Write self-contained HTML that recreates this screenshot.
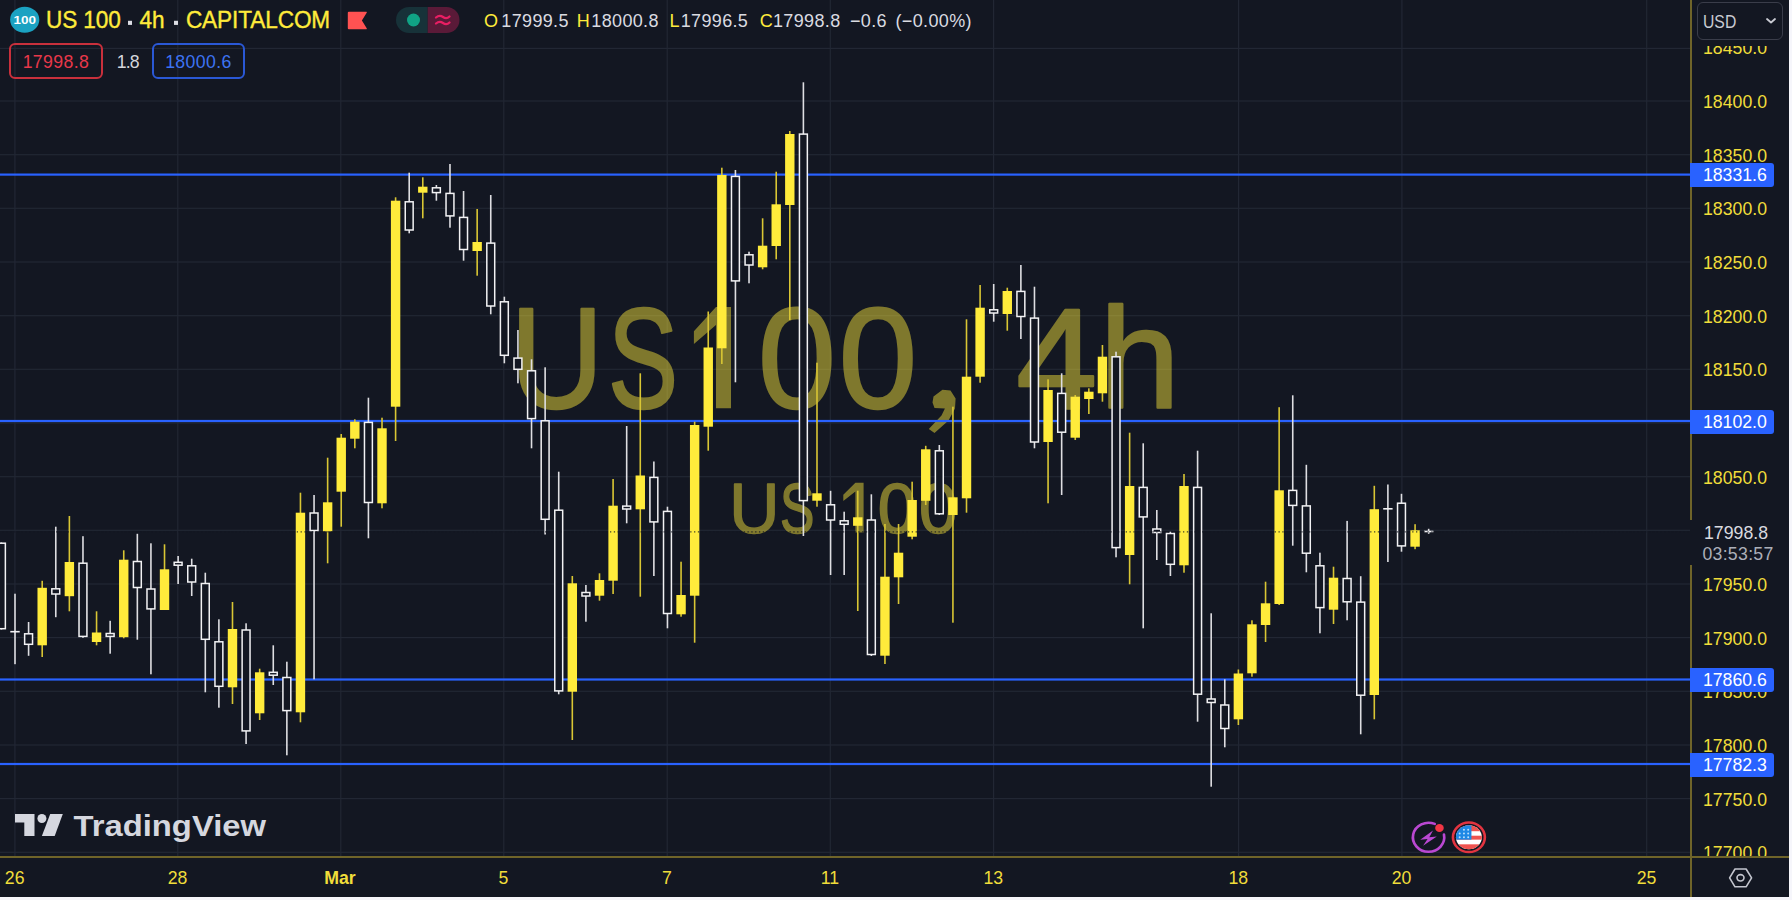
<!DOCTYPE html>
<html><head><meta charset="utf-8"><title>US 100 chart</title>
<style>
html,body{margin:0;padding:0;}
body{width:1792px;height:900px;background:#F6F6FB;overflow:hidden;position:relative;font-family:"Liberation Sans",sans-serif;}
#app{position:absolute;left:0;top:0;width:1789.3px;height:896.9px;background:#131722;overflow:hidden;}
#chart{position:absolute;left:0;top:0;}
.abs{position:absolute;white-space:nowrap;}
#axisv1{position:absolute;left:1690px;top:0;width:2px;height:519.7px;background:#6F6429;}
#axisv2{z-index:3;position:absolute;left:1690px;top:565.3px;width:2px;height:335px;background:#6F6429;}
#axish{z-index:3;position:absolute;left:0;top:856.3px;width:1790px;height:1.4px;background:#6F6429;}
#timebar{z-index:2;position:absolute;left:0;top:858px;width:1790px;height:40px;background:#131722;}
.pl{position:absolute;left:1692px;width:86px;text-align:center;font-size:17.7px;line-height:22px;height:22px;color:#F0DD3A;white-space:nowrap;}
.bl{z-index:4;position:absolute;left:1690.3px;width:84.2px;height:24px;line-height:25.6px;background:#2962FF;color:#fff;font-size:17.7px;text-align:center;border-radius:0 3px 3px 0;padding-left:5px;box-sizing:border-box;}
.tl{z-index:3;position:absolute;top:866.7px;width:60px;text-align:center;font-size:17.7px;line-height:22px;color:#F0DD3A;}
.tl.b{font-weight:bold;}
#usd{position:absolute;left:1696.8px;top:2px;width:86.4px;height:37.8px;box-sizing:border-box;border:1.8px solid #3A3D4A;border-radius:6px;background:#131722;}
#usd span{position:absolute;left:5px;top:7.8px;font-size:17.5px;line-height:22px;color:#C9CBD3;transform:scaleX(0.9);transform-origin:0 0;}
#usdcover{position:absolute;left:1692.2px;top:0;width:98px;height:45.6px;background:#131722;}
#lastp{position:absolute;left:1693px;top:521px;width:96px;height:44px;background:#131722;}
#lastp .a{position:absolute;left:0;width:86px;top:1px;text-align:center;font-size:17.7px;line-height:22px;color:#DADBE0;}
#lastp .b{position:absolute;left:0;width:90px;top:21.5px;text-align:center;font-size:17.7px;line-height:22px;color:#ACAFB9;letter-spacing:0.3px;}
#title{left:46px;top:6.6px;transform:scaleY(1.03);transform-origin:0 76%;font-size:22.6px;line-height:28px;color:#FFEB3B;letter-spacing:-0.1px;-webkit-text-stroke:0.35px #FFEB3B;}
#title i{display:inline-block;width:4px;height:4px;background:#DCDDE4;vertical-align:middle;margin:0 7.7px 0 7px;position:relative;top:0.8px;}
#title i.s2{margin-left:9.6px;margin-right:7.9px;}
#ohlc{left:0;top:8.5px;font-size:18px;line-height:24px;color:#DADBE1;letter-spacing:0.35px;}
#ohlc span{position:absolute;top:0;}
#ohlc b{font-weight:normal;color:#FFEB3B;}
.box{position:absolute;top:43px;height:36.2px;box-sizing:border-box;border-radius:6px;font-size:17.7px;line-height:31.4px;padding-top:1.6px;text-align:center;letter-spacing:0.4px;}
</style></head><body>
<div id="app">
<svg id="chart" width="1692" height="858" viewBox="0 0 1692 858" shape-rendering="auto">
<rect x="14.3" y="0" width="1.2" height="857" fill="#222734"/>
<rect x="177.2" y="0" width="1.2" height="857" fill="#222734"/>
<rect x="340.2" y="0" width="1.2" height="857" fill="#222734"/>
<rect x="503.2" y="0" width="1.2" height="857" fill="#222734"/>
<rect x="666.6" y="0" width="1.2" height="857" fill="#222734"/>
<rect x="829.7" y="0" width="1.2" height="857" fill="#222734"/>
<rect x="993.0" y="0" width="1.2" height="857" fill="#222734"/>
<rect x="1238.0" y="0" width="1.2" height="857" fill="#222734"/>
<rect x="1401.3" y="0" width="1.2" height="857" fill="#222734"/>
<rect x="1646.1" y="0" width="1.2" height="857" fill="#222734"/>
<rect x="0" y="851.7" width="1690" height="1.2" fill="#222734"/>
<rect x="0" y="798.0" width="1690" height="1.2" fill="#222734"/>
<rect x="0" y="744.4" width="1690" height="1.2" fill="#222734"/>
<rect x="0" y="690.7" width="1690" height="1.2" fill="#222734"/>
<rect x="0" y="637.0" width="1690" height="1.2" fill="#222734"/>
<rect x="0" y="583.4" width="1690" height="1.2" fill="#222734"/>
<rect x="0" y="529.7" width="1690" height="1.2" fill="#222734"/>
<rect x="0" y="476.1" width="1690" height="1.2" fill="#222734"/>
<rect x="0" y="422.4" width="1690" height="1.2" fill="#222734"/>
<rect x="0" y="368.7" width="1690" height="1.2" fill="#222734"/>
<rect x="0" y="315.1" width="1690" height="1.2" fill="#222734"/>
<rect x="0" y="261.4" width="1690" height="1.2" fill="#222734"/>
<rect x="0" y="207.7" width="1690" height="1.2" fill="#222734"/>
<rect x="0" y="154.1" width="1690" height="1.2" fill="#222734"/>
<rect x="0" y="100.4" width="1690" height="1.2" fill="#222734"/>
<rect x="0" y="47.8" width="1690" height="1.2" fill="#222734"/>
<g opacity="0.46" fill="#FFEB3B" stroke="#FFEB3B" stroke-width="2.4" stroke-linejoin="round" font-family="Liberation Sans, sans-serif" font-size="143.3">
<text transform="translate(510.35,408.20) scale(0.9007,1)">U</text>
<text transform="translate(607.93,408.20) scale(0.7334,1)">S</text>
<path stroke="none" d="M715.97 307.00 H731.00 V408.20 H715.97 V325.00 L693.90 344.00 V331.30 Z"/>
<text transform="translate(757.93,408.20) scale(0.9767,1)">0</text>
<text transform="translate(838.79,408.20) scale(0.9825,1)">0</text>
<path stroke="none" d="M933.5 396.5 L942.5 389.8 L950.5 390.4 L955.6 398.5 L955.0 408.5 L948.5 420.6 L934.5 433.0 L928.8 429.0 L941.5 415.6 L944.9 408.5 L934.5 408.1 L932.5 402.5Z"/>
<text transform="translate(1016.26,408.20) scale(1.0163,1)">4</text>
<text transform="translate(1099.40,408.20) scale(1.0073,1)">h</text>
</g>
<g opacity="0.46" fill="#FFEB3B" stroke="#FFEB3B" stroke-width="1.5" stroke-linejoin="round" font-family="Liberation Sans, sans-serif" font-size="70.5">
<text transform="translate(729.19,532.50) scale(0.9866,1)">U</text>
<text transform="translate(780.11,532.50) scale(0.7318,1)">S</text>
<path stroke="none" d="M855.38 482.71 H863.60 V532.50 H855.38 V491.57 L843.30 500.92 V494.67 Z"/>
<text transform="translate(877.64,532.50) scale(0.9822,1)">0</text>
<text transform="translate(919.04,532.50) scale(0.9822,1)">0</text>
</g>
<rect x="0" y="173.5" width="1691" height="2.2" fill="#2962FF"/>
<rect x="0" y="419.9" width="1691" height="2.2" fill="#2962FF"/>
<rect x="0" y="678.4" width="1691" height="2.2" fill="#2962FF"/>
<rect x="0" y="762.9" width="1691" height="2.2" fill="#2962FF"/>
<rect x="0.61" y="542.5" width="1.6" height="87.0" fill="#DEDEE2"/>
<rect x="-2.54" y="543.2" width="7.90" height="85.5" fill="#131722" stroke="#F2F2F4" stroke-width="1.5"/>
<rect x="14.20" y="593.7" width="1.6" height="70.5" fill="#DEDEE2"/>
<rect x="10.30" y="630.9" width="9.4" height="1.6" fill="#F2F2F4"/>
<rect x="27.79" y="622.0" width="1.6" height="33.8" fill="#DEDEE2"/>
<rect x="24.64" y="633.8" width="7.90" height="10.5" fill="#131722" stroke="#F2F2F4" stroke-width="1.5"/>
<rect x="41.39" y="580.8" width="1.6" height="76.2" fill="#D9C634"/>
<rect x="37.49" y="587.8" width="9.4" height="57.5" fill="#FFEB3B"/>
<rect x="54.98" y="526.7" width="1.6" height="90.5" fill="#DEDEE2"/>
<rect x="51.83" y="588.8" width="7.90" height="5.2" fill="#131722" stroke="#F2F2F4" stroke-width="1.5"/>
<rect x="68.57" y="516.0" width="1.6" height="95.3" fill="#D9C634"/>
<rect x="64.67" y="562.0" width="9.4" height="34.2" fill="#FFEB3B"/>
<rect x="82.17" y="536.2" width="1.6" height="101.6" fill="#DEDEE2"/>
<rect x="79.02" y="563.2" width="7.90" height="73.2" fill="#131722" stroke="#F2F2F4" stroke-width="1.5"/>
<rect x="95.76" y="611.3" width="1.6" height="34.0" fill="#D9C634"/>
<rect x="91.86" y="632.5" width="9.4" height="9.5" fill="#FFEB3B"/>
<rect x="109.35" y="620.8" width="1.6" height="32.9" fill="#DEDEE2"/>
<rect x="106.20" y="633.5" width="7.90" height="2.9" fill="#131722" stroke="#F2F2F4" stroke-width="1.5"/>
<rect x="122.94" y="550.3" width="1.6" height="88.0" fill="#D9C634"/>
<rect x="119.04" y="559.7" width="9.4" height="77.5" fill="#FFEB3B"/>
<rect x="136.54" y="533.8" width="1.6" height="105.9" fill="#DEDEE2"/>
<rect x="133.39" y="561.5" width="7.90" height="26.0" fill="#131722" stroke="#F2F2F4" stroke-width="1.5"/>
<rect x="150.13" y="543.3" width="1.6" height="131.0" fill="#DEDEE2"/>
<rect x="146.98" y="589.0" width="7.90" height="19.9" fill="#131722" stroke="#F2F2F4" stroke-width="1.5"/>
<rect x="163.72" y="544.3" width="1.6" height="65.7" fill="#D9C634"/>
<rect x="159.82" y="569.3" width="9.4" height="40.7" fill="#FFEB3B"/>
<rect x="177.32" y="556.0" width="1.6" height="28.0" fill="#DEDEE2"/>
<rect x="174.17" y="562.3" width="7.90" height="2.9" fill="#131722" stroke="#F2F2F4" stroke-width="1.5"/>
<rect x="190.91" y="558.7" width="1.6" height="37.3" fill="#DEDEE2"/>
<rect x="187.76" y="565.8" width="7.90" height="16.2" fill="#131722" stroke="#F2F2F4" stroke-width="1.5"/>
<rect x="204.50" y="572.7" width="1.6" height="119.6" fill="#DEDEE2"/>
<rect x="201.35" y="583.5" width="7.90" height="55.8" fill="#131722" stroke="#F2F2F4" stroke-width="1.5"/>
<rect x="218.09" y="619.3" width="1.6" height="88.4" fill="#DEDEE2"/>
<rect x="214.95" y="641.8" width="7.90" height="44.5" fill="#131722" stroke="#F2F2F4" stroke-width="1.5"/>
<rect x="231.69" y="602.0" width="1.6" height="102.0" fill="#D9C634"/>
<rect x="227.79" y="629.0" width="9.4" height="58.3" fill="#FFEB3B"/>
<rect x="245.28" y="623.3" width="1.6" height="120.7" fill="#DEDEE2"/>
<rect x="242.13" y="630.0" width="7.90" height="100.9" fill="#131722" stroke="#F2F2F4" stroke-width="1.5"/>
<rect x="258.87" y="668.7" width="1.6" height="51.3" fill="#D9C634"/>
<rect x="254.97" y="672.3" width="9.4" height="41.0" fill="#FFEB3B"/>
<rect x="272.47" y="645.3" width="1.6" height="39.7" fill="#DEDEE2"/>
<rect x="269.32" y="672.3" width="7.90" height="2.9" fill="#131722" stroke="#F2F2F4" stroke-width="1.5"/>
<rect x="286.06" y="661.7" width="1.6" height="93.6" fill="#DEDEE2"/>
<rect x="282.91" y="677.5" width="7.90" height="33.1" fill="#131722" stroke="#F2F2F4" stroke-width="1.5"/>
<rect x="299.65" y="492.7" width="1.6" height="229.6" fill="#D9C634"/>
<rect x="295.75" y="512.7" width="9.4" height="199.6" fill="#FFEB3B"/>
<rect x="313.25" y="495.0" width="1.6" height="184.3" fill="#DEDEE2"/>
<rect x="310.10" y="513.0" width="7.90" height="17.5" fill="#131722" stroke="#F2F2F4" stroke-width="1.5"/>
<rect x="326.84" y="457.7" width="1.6" height="105.6" fill="#D9C634"/>
<rect x="322.94" y="502.3" width="9.4" height="29.0" fill="#FFEB3B"/>
<rect x="340.43" y="434.0" width="1.6" height="92.7" fill="#D9C634"/>
<rect x="336.53" y="437.7" width="9.4" height="54.0" fill="#FFEB3B"/>
<rect x="354.02" y="419.3" width="1.6" height="29.0" fill="#D9C634"/>
<rect x="350.12" y="421.7" width="9.4" height="17.0" fill="#FFEB3B"/>
<rect x="367.62" y="397.7" width="1.6" height="140.6" fill="#DEDEE2"/>
<rect x="364.47" y="422.4" width="7.90" height="80.1" fill="#131722" stroke="#F2F2F4" stroke-width="1.5"/>
<rect x="381.21" y="417.7" width="1.6" height="90.6" fill="#D9C634"/>
<rect x="377.31" y="428.3" width="9.4" height="75.0" fill="#FFEB3B"/>
<rect x="394.80" y="197.3" width="1.6" height="243.7" fill="#D9C634"/>
<rect x="390.90" y="200.7" width="9.4" height="206.0" fill="#FFEB3B"/>
<rect x="408.40" y="172.7" width="1.6" height="60.6" fill="#DEDEE2"/>
<rect x="405.25" y="201.8" width="7.90" height="28.2" fill="#131722" stroke="#F2F2F4" stroke-width="1.5"/>
<rect x="421.99" y="177.3" width="1.6" height="41.0" fill="#D9C634"/>
<rect x="418.09" y="186.7" width="9.4" height="6.0" fill="#FFEB3B"/>
<rect x="435.58" y="185.0" width="1.6" height="15.7" fill="#DEDEE2"/>
<rect x="432.43" y="187.8" width="7.90" height="4.8" fill="#131722" stroke="#F2F2F4" stroke-width="1.5"/>
<rect x="449.18" y="164.0" width="1.6" height="63.7" fill="#DEDEE2"/>
<rect x="446.03" y="193.4" width="7.90" height="22.5" fill="#131722" stroke="#F2F2F4" stroke-width="1.5"/>
<rect x="462.77" y="191.0" width="1.6" height="69.7" fill="#DEDEE2"/>
<rect x="459.62" y="217.4" width="7.90" height="32.1" fill="#131722" stroke="#F2F2F4" stroke-width="1.5"/>
<rect x="476.36" y="209.0" width="1.6" height="66.7" fill="#D9C634"/>
<rect x="472.46" y="242.0" width="9.4" height="9.0" fill="#FFEB3B"/>
<rect x="489.95" y="195.0" width="1.6" height="119.3" fill="#DEDEE2"/>
<rect x="486.81" y="243.1" width="7.90" height="62.9" fill="#131722" stroke="#F2F2F4" stroke-width="1.5"/>
<rect x="503.55" y="296.7" width="1.6" height="66.6" fill="#DEDEE2"/>
<rect x="500.40" y="301.8" width="7.90" height="53.5" fill="#131722" stroke="#F2F2F4" stroke-width="1.5"/>
<rect x="517.14" y="330.0" width="1.6" height="53.3" fill="#DEDEE2"/>
<rect x="513.99" y="358.1" width="7.90" height="11.2" fill="#131722" stroke="#F2F2F4" stroke-width="1.5"/>
<rect x="530.73" y="359.3" width="1.6" height="89.0" fill="#DEDEE2"/>
<rect x="527.58" y="370.8" width="7.90" height="47.8" fill="#131722" stroke="#F2F2F4" stroke-width="1.5"/>
<rect x="544.33" y="367.3" width="1.6" height="167.2" fill="#DEDEE2"/>
<rect x="541.18" y="420.8" width="7.90" height="98.5" fill="#131722" stroke="#F2F2F4" stroke-width="1.5"/>
<rect x="557.92" y="471.7" width="1.6" height="222.6" fill="#DEDEE2"/>
<rect x="554.77" y="510.2" width="7.90" height="180.7" fill="#131722" stroke="#F2F2F4" stroke-width="1.5"/>
<rect x="571.51" y="576.0" width="1.6" height="164.0" fill="#D9C634"/>
<rect x="567.61" y="583.3" width="9.4" height="108.4" fill="#FFEB3B"/>
<rect x="585.11" y="585.0" width="1.6" height="36.7" fill="#DEDEE2"/>
<rect x="581.96" y="592.5" width="7.90" height="3.5" fill="#131722" stroke="#F2F2F4" stroke-width="1.5"/>
<rect x="598.70" y="573.3" width="1.6" height="27.4" fill="#D9C634"/>
<rect x="594.80" y="580.0" width="9.4" height="15.7" fill="#FFEB3B"/>
<rect x="612.29" y="479.0" width="1.6" height="115.0" fill="#D9C634"/>
<rect x="608.39" y="505.7" width="9.4" height="75.0" fill="#FFEB3B"/>
<rect x="625.88" y="426.0" width="1.6" height="97.3" fill="#DEDEE2"/>
<rect x="622.73" y="506.1" width="7.90" height="2.9" fill="#131722" stroke="#F2F2F4" stroke-width="1.5"/>
<rect x="639.48" y="373.3" width="1.6" height="223.4" fill="#D9C634"/>
<rect x="635.58" y="475.5" width="9.4" height="33.8" fill="#FFEB3B"/>
<rect x="653.07" y="461.5" width="1.6" height="114.5" fill="#DEDEE2"/>
<rect x="649.92" y="477.4" width="7.90" height="44.5" fill="#131722" stroke="#F2F2F4" stroke-width="1.5"/>
<rect x="666.66" y="506.7" width="1.6" height="121.6" fill="#DEDEE2"/>
<rect x="663.51" y="511.4" width="7.90" height="102.1" fill="#131722" stroke="#F2F2F4" stroke-width="1.5"/>
<rect x="680.26" y="561.7" width="1.6" height="55.0" fill="#D9C634"/>
<rect x="676.36" y="595.0" width="9.4" height="19.3" fill="#FFEB3B"/>
<rect x="693.85" y="421.7" width="1.6" height="221.0" fill="#D9C634"/>
<rect x="689.95" y="425.0" width="9.4" height="170.7" fill="#FFEB3B"/>
<rect x="707.44" y="311.5" width="1.6" height="139.2" fill="#D9C634"/>
<rect x="703.54" y="347.5" width="9.4" height="79.2" fill="#FFEB3B"/>
<rect x="721.04" y="167.7" width="1.6" height="196.3" fill="#D9C634"/>
<rect x="717.14" y="175.0" width="9.4" height="173.3" fill="#FFEB3B"/>
<rect x="734.63" y="170.0" width="1.6" height="212.3" fill="#DEDEE2"/>
<rect x="731.48" y="176.4" width="7.90" height="104.5" fill="#131722" stroke="#F2F2F4" stroke-width="1.5"/>
<rect x="748.22" y="251.7" width="1.6" height="31.6" fill="#DEDEE2"/>
<rect x="745.07" y="254.8" width="7.90" height="10.2" fill="#131722" stroke="#F2F2F4" stroke-width="1.5"/>
<rect x="761.82" y="218.3" width="1.6" height="51.0" fill="#D9C634"/>
<rect x="757.91" y="245.7" width="9.4" height="21.6" fill="#FFEB3B"/>
<rect x="775.41" y="171.7" width="1.6" height="87.6" fill="#D9C634"/>
<rect x="771.51" y="204.3" width="9.4" height="41.7" fill="#FFEB3B"/>
<rect x="789.00" y="131.0" width="1.6" height="189.0" fill="#D9C634"/>
<rect x="785.10" y="134.0" width="9.4" height="71.0" fill="#FFEB3B"/>
<rect x="802.59" y="82.3" width="1.6" height="453.7" fill="#DEDEE2"/>
<rect x="799.44" y="134.1" width="7.90" height="366.5" fill="#131722" stroke="#F2F2F4" stroke-width="1.5"/>
<rect x="816.19" y="362.7" width="1.6" height="144.0" fill="#D9C634"/>
<rect x="812.29" y="493.3" width="9.4" height="7.4" fill="#FFEB3B"/>
<rect x="829.78" y="490.8" width="1.6" height="84.2" fill="#DEDEE2"/>
<rect x="826.63" y="504.8" width="7.90" height="15.2" fill="#131722" stroke="#F2F2F4" stroke-width="1.5"/>
<rect x="843.37" y="511.7" width="1.6" height="63.3" fill="#DEDEE2"/>
<rect x="840.22" y="520.8" width="7.90" height="3.5" fill="#131722" stroke="#F2F2F4" stroke-width="1.5"/>
<rect x="856.97" y="490.7" width="1.6" height="120.3" fill="#D9C634"/>
<rect x="853.07" y="517.3" width="9.4" height="8.5" fill="#FFEB3B"/>
<rect x="870.56" y="494.3" width="1.6" height="161.7" fill="#DEDEE2"/>
<rect x="867.41" y="520.0" width="7.90" height="134.5" fill="#131722" stroke="#F2F2F4" stroke-width="1.5"/>
<rect x="884.15" y="524.0" width="1.6" height="140.0" fill="#D9C634"/>
<rect x="880.25" y="576.7" width="9.4" height="79.0" fill="#FFEB3B"/>
<rect x="897.75" y="524.0" width="1.6" height="80.0" fill="#D9C634"/>
<rect x="893.84" y="552.7" width="9.4" height="24.6" fill="#FFEB3B"/>
<rect x="911.34" y="481.7" width="1.6" height="57.6" fill="#D9C634"/>
<rect x="907.44" y="500.0" width="9.4" height="36.7" fill="#FFEB3B"/>
<rect x="924.93" y="445.8" width="1.6" height="59.2" fill="#D9C634"/>
<rect x="921.03" y="449.3" width="9.4" height="51.5" fill="#FFEB3B"/>
<rect x="938.52" y="445.0" width="1.6" height="70.0" fill="#DEDEE2"/>
<rect x="935.37" y="450.8" width="7.90" height="63.0" fill="#131722" stroke="#F2F2F4" stroke-width="1.5"/>
<rect x="952.12" y="406.7" width="1.6" height="216.0" fill="#D9C634"/>
<rect x="948.22" y="497.3" width="9.4" height="17.7" fill="#FFEB3B"/>
<rect x="965.71" y="319.3" width="1.6" height="193.4" fill="#D9C634"/>
<rect x="961.81" y="376.7" width="9.4" height="121.6" fill="#FFEB3B"/>
<rect x="979.30" y="285.0" width="1.6" height="97.7" fill="#D9C634"/>
<rect x="975.40" y="307.7" width="9.4" height="69.0" fill="#FFEB3B"/>
<rect x="992.90" y="284.0" width="1.6" height="37.7" fill="#DEDEE2"/>
<rect x="989.75" y="309.8" width="7.90" height="3.2" fill="#131722" stroke="#F2F2F4" stroke-width="1.5"/>
<rect x="1006.49" y="287.7" width="1.6" height="43.0" fill="#D9C634"/>
<rect x="1002.59" y="291.0" width="9.4" height="23.0" fill="#FFEB3B"/>
<rect x="1020.08" y="265.0" width="1.6" height="74.0" fill="#DEDEE2"/>
<rect x="1016.93" y="291.4" width="7.90" height="25.1" fill="#131722" stroke="#F2F2F4" stroke-width="1.5"/>
<rect x="1033.67" y="286.7" width="1.6" height="161.6" fill="#DEDEE2"/>
<rect x="1030.52" y="318.1" width="7.90" height="123.9" fill="#131722" stroke="#F2F2F4" stroke-width="1.5"/>
<rect x="1047.27" y="379.3" width="1.6" height="124.0" fill="#D9C634"/>
<rect x="1043.37" y="390.0" width="9.4" height="52.0" fill="#FFEB3B"/>
<rect x="1060.86" y="373.3" width="1.6" height="121.7" fill="#DEDEE2"/>
<rect x="1057.71" y="393.4" width="7.90" height="38.8" fill="#131722" stroke="#F2F2F4" stroke-width="1.5"/>
<rect x="1074.45" y="395.0" width="1.6" height="45.0" fill="#D9C634"/>
<rect x="1070.55" y="396.7" width="9.4" height="41.0" fill="#FFEB3B"/>
<rect x="1088.05" y="388.3" width="1.6" height="25.7" fill="#D9C634"/>
<rect x="1084.15" y="391.7" width="9.4" height="7.3" fill="#FFEB3B"/>
<rect x="1101.64" y="345.0" width="1.6" height="56.7" fill="#D9C634"/>
<rect x="1097.74" y="356.7" width="9.4" height="36.6" fill="#FFEB3B"/>
<rect x="1115.23" y="351.7" width="1.6" height="205.6" fill="#DEDEE2"/>
<rect x="1112.08" y="356.8" width="7.90" height="190.8" fill="#131722" stroke="#F2F2F4" stroke-width="1.5"/>
<rect x="1128.83" y="432.7" width="1.6" height="151.6" fill="#D9C634"/>
<rect x="1124.93" y="486.0" width="9.4" height="69.0" fill="#FFEB3B"/>
<rect x="1142.42" y="443.3" width="1.6" height="185.0" fill="#DEDEE2"/>
<rect x="1139.27" y="487.4" width="7.90" height="29.5" fill="#131722" stroke="#F2F2F4" stroke-width="1.5"/>
<rect x="1156.01" y="510.0" width="1.6" height="50.0" fill="#DEDEE2"/>
<rect x="1152.86" y="529.0" width="7.90" height="3.5" fill="#131722" stroke="#F2F2F4" stroke-width="1.5"/>
<rect x="1169.61" y="531.7" width="1.6" height="44.3" fill="#DEDEE2"/>
<rect x="1166.45" y="533.5" width="7.90" height="30.8" fill="#131722" stroke="#F2F2F4" stroke-width="1.5"/>
<rect x="1183.20" y="474.0" width="1.6" height="98.7" fill="#D9C634"/>
<rect x="1179.30" y="486.0" width="9.4" height="79.3" fill="#FFEB3B"/>
<rect x="1196.79" y="450.7" width="1.6" height="271.0" fill="#DEDEE2"/>
<rect x="1193.64" y="487.4" width="7.90" height="206.8" fill="#131722" stroke="#F2F2F4" stroke-width="1.5"/>
<rect x="1210.38" y="613.3" width="1.6" height="173.4" fill="#DEDEE2"/>
<rect x="1207.23" y="699.0" width="7.90" height="3.5" fill="#131722" stroke="#F2F2F4" stroke-width="1.5"/>
<rect x="1223.98" y="679.3" width="1.6" height="68.0" fill="#DEDEE2"/>
<rect x="1220.83" y="705.0" width="7.90" height="23.5" fill="#131722" stroke="#F2F2F4" stroke-width="1.5"/>
<rect x="1237.57" y="669.5" width="1.6" height="55.5" fill="#D9C634"/>
<rect x="1233.67" y="673.5" width="9.4" height="45.8" fill="#FFEB3B"/>
<rect x="1251.16" y="620.3" width="1.6" height="56.4" fill="#D9C634"/>
<rect x="1247.26" y="624.3" width="9.4" height="49.0" fill="#FFEB3B"/>
<rect x="1264.76" y="581.7" width="1.6" height="60.3" fill="#D9C634"/>
<rect x="1260.86" y="603.3" width="9.4" height="21.7" fill="#FFEB3B"/>
<rect x="1278.35" y="407.2" width="1.6" height="197.8" fill="#D9C634"/>
<rect x="1274.45" y="490.3" width="9.4" height="113.7" fill="#FFEB3B"/>
<rect x="1291.94" y="395.3" width="1.6" height="150.4" fill="#DEDEE2"/>
<rect x="1288.79" y="490.4" width="7.90" height="15.0" fill="#131722" stroke="#F2F2F4" stroke-width="1.5"/>
<rect x="1305.54" y="464.8" width="1.6" height="107.5" fill="#DEDEE2"/>
<rect x="1302.38" y="505.9" width="7.90" height="47.3" fill="#131722" stroke="#F2F2F4" stroke-width="1.5"/>
<rect x="1319.13" y="552.7" width="1.6" height="80.6" fill="#DEDEE2"/>
<rect x="1315.98" y="565.8" width="7.90" height="41.8" fill="#131722" stroke="#F2F2F4" stroke-width="1.5"/>
<rect x="1332.72" y="566.7" width="1.6" height="57.3" fill="#D9C634"/>
<rect x="1328.82" y="577.7" width="9.4" height="32.0" fill="#FFEB3B"/>
<rect x="1346.31" y="520.9" width="1.6" height="99.4" fill="#DEDEE2"/>
<rect x="1343.16" y="578.5" width="7.90" height="23.3" fill="#131722" stroke="#F2F2F4" stroke-width="1.5"/>
<rect x="1359.91" y="576.2" width="1.6" height="158.1" fill="#DEDEE2"/>
<rect x="1356.76" y="602.1" width="7.90" height="93.1" fill="#131722" stroke="#F2F2F4" stroke-width="1.5"/>
<rect x="1373.50" y="485.8" width="1.6" height="233.5" fill="#D9C634"/>
<rect x="1369.60" y="509.2" width="9.4" height="185.8" fill="#FFEB3B"/>
<rect x="1387.09" y="484.5" width="1.6" height="77.5" fill="#DEDEE2"/>
<rect x="1383.19" y="508.0" width="9.4" height="1.6" fill="#F2F2F4"/>
<rect x="1400.69" y="493.8" width="1.6" height="57.9" fill="#DEDEE2"/>
<rect x="1397.54" y="503.2" width="7.90" height="42.7" fill="#131722" stroke="#F2F2F4" stroke-width="1.5"/>
<rect x="1414.28" y="524.2" width="1.6" height="25.0" fill="#D9C634"/>
<rect x="1410.38" y="530.3" width="9.4" height="16.4" fill="#FFEB3B"/>
<rect x="1427.87" y="528.8" width="1.6" height="5.0" fill="#DEDEE2"/>
<rect x="1423.97" y="530.7" width="9.4" height="1.6" fill="#F2F2F4"/>
<line x1="2.6" y1="531.8" x2="1690" y2="531.8" stroke="#131722" stroke-opacity="0.8" stroke-width="1.2" stroke-dasharray="1.3 2.52"/>
</svg>
<div id="timebar"></div>
<div id="axisv1"></div><div id="axisv2"></div>
<div class="pl" style="top:842.3px">17700.0</div>
<div class="pl" style="top:788.6px">17750.0</div>
<div class="pl" style="top:735.0px">17800.0</div>
<div class="pl" style="top:681.3px">17850.0</div>
<div class="pl" style="top:627.6px">17900.0</div>
<div class="pl" style="top:574.0px">17950.0</div>
<div class="pl" style="top:520.3px">18000.0</div>
<div class="pl" style="top:466.7px">18050.0</div>
<div class="pl" style="top:413.0px">18100.0</div>
<div class="pl" style="top:359.3px">18150.0</div>
<div class="pl" style="top:305.7px">18200.0</div>
<div class="pl" style="top:252.0px">18250.0</div>
<div class="pl" style="top:198.3px">18300.0</div>
<div class="pl" style="top:144.7px">18350.0</div>
<div class="pl" style="top:91.0px">18400.0</div>
<div class="pl" style="top:37.3px">18450.0</div>
<div class="bl" style="top:163.3px">18331.6</div>
<div class="bl" style="top:409.6px">18102.0</div>
<div class="bl" style="top:667.7px">17860.6</div>
<div class="bl" style="top:752.5px">17782.3</div>
<div id="lastp"><div class="a">17998.8</div><div class="b">03:53:57</div></div>
<div id="usdcover"></div>
<div id="usd"><span>USD</span>
<svg style="position:absolute;left:67px;top:14.2px" width="12" height="8" viewBox="0 0 12 8"><path d="M2 2 L6 5.5 L10 2" fill="none" stroke="#C9CBD3" stroke-width="1.8" stroke-linecap="round" stroke-linejoin="round"/></svg>
</div>
<div id="axish"></div>
<div class="tl" style="left:-15.3px">26</div>
<div class="tl" style="left:147.5px">28</div>
<div class="tl b" style="left:310.0px">Mar</div>
<div class="tl" style="left:473.5px">5</div>
<div class="tl" style="left:637.0px">7</div>
<div class="tl" style="left:800.0px">11</div>
<div class="tl" style="left:963.3px">13</div>
<div class="tl" style="left:1208.3px">18</div>
<div class="tl" style="left:1371.6px">20</div>
<div class="tl" style="left:1616.5px">25</div>
<svg class="abs" style="z-index:3;left:1726px;top:864px" width="30" height="28" viewBox="1726 864 30 28"><path d="M1729.6 877.9 L1735 869 H1746.1 L1751.6 877.9 L1746.1 886.8 H1735 Z" fill="none" stroke="#C4C6CF" stroke-width="1.6" stroke-linejoin="round"/><ellipse cx="1740.5" cy="877.8" rx="3.5" ry="3.2" fill="none" stroke="#C4C6CF" stroke-width="1.6"/></svg>

<!-- header -->
<svg class="abs" style="left:9px;top:5px" width="32" height="30" viewBox="0 0 32 30"><ellipse cx="15.7" cy="14.7" rx="14.6" ry="13" fill="#1BA2C2"/><text x="15.7" y="19" text-anchor="middle" font-family="Liberation Sans, sans-serif" font-weight="bold" font-size="11.5" fill="#fff" textLength="22.5" lengthAdjust="spacingAndGlyphs">100</text></svg>
<div id="title" class="abs">US 100<i></i>4h<i class="s2"></i>CAPITALCOM</div>
<svg class="abs" style="left:347px;top:11px" width="22" height="20" viewBox="0 0 22 20"><path d="M1.8 0.8 H19.3 Q20.3 0.8 19.7 1.7 L14.9 9.5 L19.7 17.3 Q20.3 18.2 19.3 18.2 H1.8 Q0.8 18.2 0.8 17.2 V1.8 Q0.8 0.8 1.8 0.8 Z" fill="#FF5252"/></svg>
<svg class="abs" style="left:395px;top:6px" width="66" height="28" viewBox="0 0 66 28"><path d="M14 1 H32.7 V27 H14 A13 13 0 0 1 14 1 Z" fill="#173239"/><path d="M32.7 1 H51.5 A13 13 0 0 1 51.5 27 H32.7 Z" fill="#5A1A38"/><circle cx="18.5" cy="14" r="6.5" fill="#10A385"/><path d="M41 11.5 Q44.5 8.5 48 11 T54.5 10.5 M41 17.5 Q44.5 14.5 48 17 T54.5 16.5" fill="none" stroke="#E91E63" stroke-width="2.3" stroke-linecap="round"/></svg>
<div id="ohlc" class="abs"><span style="left:484px"><b>O</b></span><span style="left:501.3px">17999.5</span><span style="left:576.8px"><b>H</b></span><span style="left:591.3px">18000.8</span><span style="left:669.5px"><b>L</b></span><span style="left:680.7px">17996.5</span><span style="left:759.7px"><b>C</b></span><span style="left:773px">17998.8</span><span style="left:850px">−0.6</span><span style="left:895.5px">(−0.00%)</span></div>
<div class="box" style="left:9px;width:94px;border:2px solid #C9303C;color:#E8384A;">17998.8</div>
<div class="abs" style="left:116.8px;top:51px;font-size:17.7px;line-height:22px;color:#D5D6DC;letter-spacing:-0.9px;">1.8</div>
<div class="box" style="left:152px;width:93px;border:2px solid #2A58D6;color:#3D73F2;">18000.6</div>

<!-- TradingView logo -->
<svg class="abs" style="left:10px;top:808px" width="270" height="40" viewBox="10 808 270 40">
<path d="M15 814 H34.5 V836 H24.3 V822.4 H15 Z" fill="#D5D7DF"/>
<circle cx="41.9" cy="818.5" r="4.5" fill="#D5D7DF"/>
<path d="M50.2 814 H62.8 L54.7 836 H41.9 Z" fill="#D5D7DF"/>
<text x="73.5" y="836" font-family="Liberation Sans, sans-serif" font-weight="bold" font-size="30" fill="#D5D7DF" textLength="192.5" lengthAdjust="spacingAndGlyphs">TradingView</text>
</svg>

<!-- bottom icons -->
<svg class="abs" style="left:1408px;top:817px" width="82" height="40" viewBox="1408 817 82 40">
<g transform="translate(1428.7,838.0) scale(1.024,0.949) translate(-1428.7,-837.1)"><path d="M1434.6 822.3 A15.3 15.3 0 1 0 1443.6 833.5" fill="none" stroke="#BA48D2" stroke-width="2.6" stroke-linecap="round"/>
<path d="M1432.9 829.3 L1420.4 838.9 L1427.6 838.1 L1423.2 845.2 L1436.6 835.6 L1429.3 836.3 Z" fill="#BA48D2"/>
<circle cx="1439.2" cy="826.6" r="4.2" fill="#F23645"/></g>
<g transform="translate(1468.9,837.3) scale(1.01,0.936) translate(-1468.9,-837.1)">
<circle cx="1468.9" cy="837.1" r="15.8" fill="none" stroke="#E33440" stroke-width="2.6"/>
<clipPath id="fc"><circle cx="1468.9" cy="837.1" r="12.8"/></clipPath>
<g clip-path="url(#fc)">
<rect x="1455" y="824" width="28" height="27" fill="#fff"/>
<rect x="1455" y="824" width="28" height="6.6" fill="#EF5350"/>
<rect x="1455" y="835.4" width="28" height="4.2" fill="#EF5350"/>
<rect x="1455" y="844.6" width="28" height="6" fill="#EF5350"/>
<rect x="1455" y="824" width="16.4" height="15.6" fill="#1E88E5"/>
<g fill="#BBDEFB"><circle cx="1464" cy="829" r="1"/><circle cx="1468.2" cy="829" r="1"/><circle cx="1459.8" cy="833" r="1"/><circle cx="1464" cy="833" r="1"/><circle cx="1468.2" cy="833" r="1"/><circle cx="1459.8" cy="837" r="1"/><circle cx="1464" cy="837" r="1"/><circle cx="1468.2" cy="837" r="1"/></g>
</g>
</g>
</svg>
</div>
</body></html>
